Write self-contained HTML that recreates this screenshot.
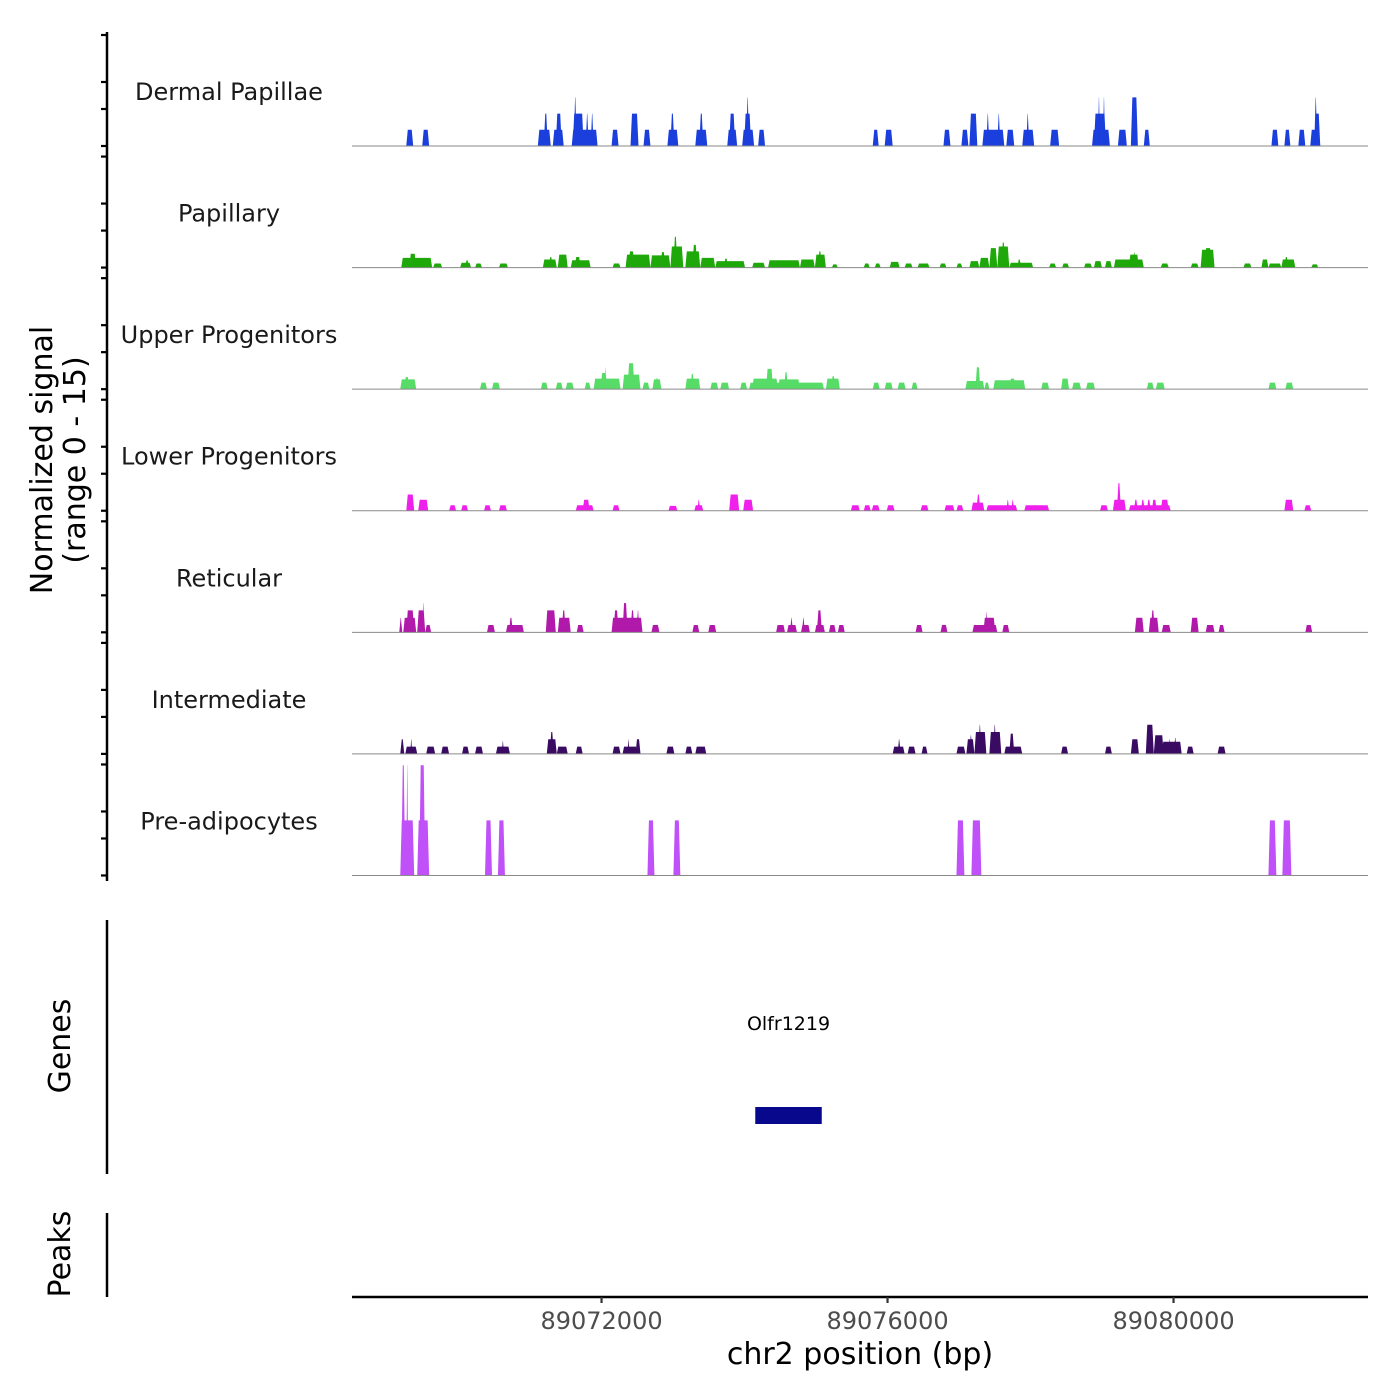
<!DOCTYPE html>
<html><head><meta charset="utf-8"><style>
html,body{margin:0;padding:0;background:#fff;}
svg{display:block;font-family:"DejaVu Sans","Liberation Sans",sans-serif;}
</style></head><body>
<svg id="chart" width="1400" height="1400" viewBox="0 0 1400 1400" xmlns="http://www.w3.org/2000/svg">
<g id="tracks"></g>
<g id="axes"></g>
</svg>
<script>
const REGION_OFFSET_BASE = 89068530;
const trackNames = ["Dermal Papillae","Papillary","Upper Progenitors","Lower Progenitors","Reticular","Intermediate","Pre-adipocytes"];
const trackColors = ["#1a3fdc","#1fa80a","#58dc68","#f020ec","#b019aa","#3a0b62","#c050f8"];
const xTicks = [89072000, 89076000, 89080000];
const xTickLabels = ["89072000","89076000","89080000"];
const geneName = "Olfr1219";
const geneStart = 89074150;
const geneEnd = 89075080;

// blocks: [start offset bp, end offset bp, signal]
const dermalPapillae = [[739,836,2],[962,1059,2],[2579,2760,2],[2662,2718,4],[2788,2941,2],[2830,2913,4],[3053,3415,2],[3067,3220,4],[3081,3123,6],[3248,3290,4],[3318,3360,4],[3610,3708,2],[3875,3987,4],[4057,4154,2],[4391,4544,2],[4433,4489,4],[4781,4949,2],[4837,4893,4],[5228,5367,2],[5255,5339,4],[5437,5604,2],[5464,5562,4],[5492,5534,6],[5660,5757,2],[7263,7346,2],[7430,7542,2],[8252,8350,2],[8503,8601,2],[8615,8726,4],[8796,9103,2],[8852,8893,4],[9005,9047,4],[9131,9242,2],[9354,9521,2],[9410,9451,4],[9744,9870,2],[10330,10580,2],[10357,10525,4],[10413,10441,6],[10483,10511,6],[10692,10817,2],[10873,10971,6],[11054,11138,2],[12839,12936,2],[13020,13104,2],[13215,13313,2],[13382,13522,2],[13438,13522,4],[13438,13480,6]];
const papillary = [[669,1101,1.2],[781,878,1.7],[1115,1241,0.5],[1492,1645,0.6],[1561,1617,0.9],[1701,1798,0.5],[2035,2161,0.5],[2649,2844,1.0],[2732,2788,1.3],[2858,2997,1.6],[3039,3318,0.9],[3095,3178,1.3],[3624,3736,0.5],[3806,4154,1.6],[3847,3931,2.0],[4154,4433,1.5],[4294,4363,1.9],[4433,4614,2.6],[4475,4531,3.8],[4642,4851,2.0],[4740,4809,2.8],[4851,5060,1.2],[5060,5478,0.8],[5180,5240,1.1],[5576,5757,0.6],[5799,6245,0.9],[6245,6454,1.0],[6454,6608,1.6],[6496,6552,2.0],[6691,6775,0.4],[7137,7221,0.5],[7291,7374,0.5],[7500,7639,0.7],[7709,7820,0.5],[7890,8057,0.5],[8197,8294,0.5],[8434,8517,0.5],[8615,8754,0.8],[8754,8894,1.2],[8894,9005,2.4],[9005,9173,2.6],[9061,9117,3.1],[9173,9507,0.6],[9284,9340,1.0],[9730,9828,0.5],[9911,10009,0.5],[10218,10330,0.5],[10357,10469,0.8],[10511,10608,0.8],[10636,11054,1.0],[10845,10985,1.6],[10901,10943,1.9],[11291,11403,0.5],[11710,11821,0.5],[11849,12044,2.2],[11905,12002,2.4],[12448,12560,0.5],[12699,12797,1.0],[12797,12978,0.5],[12978,13173,1.0],[13020,13076,1.3],[13396,13494,0.4]];
const upperProgenitors = [[655,878,1.2],[711,781,1.5],[1770,1868,0.8],[1938,2049,0.8],[2621,2718,0.8],[2830,2927,0.8],[2969,3081,0.8],[3234,3318,0.8],[3360,3736,1.3],[3457,3541,2.0],[3513,3541,2.7],[3764,4015,1.8],[3834,3931,3.2],[4043,4140,0.8],[4182,4307,1.2],[4220,4270,1.4],[4642,4851,1.3],[4712,4767,1.9],[4991,5102,0.8],[5130,5255,0.8],[5409,5506,0.8],[5534,6580,0.8],[5576,5938,1.3],[5771,5869,2.5],[5938,6245,1.2],[6022,6078,2.1],[6608,6803,1.3],[6680,6740,1.6],[7263,7360,0.8],[7430,7542,0.8],[7611,7723,0.8],[7806,7890,0.8],[8559,8824,1.0],[8699,8768,2.7],[8824,8894,0.8],[8949,9396,1.1],[9173,9260,1.3],[9619,9730,0.8],[9897,10009,1.3],[10051,10176,0.8],[10246,10371,0.8],[11096,11194,0.8],[11222,11347,0.8],[12797,12908,0.8],[13034,13145,0.8]];
const lowerProgenitors = [[739,850,2.0],[906,1046,1.35],[1338,1436,0.67],[1506,1603,0.67],[1826,1924,0.67],[2035,2147,0.67],[3109,3360,0.67],[3206,3304,1.35],[3624,3722,0.67],[4405,4531,0.6],[4767,4893,0.67],[4809,4851,1.35],[5255,5395,2.0],[5451,5590,1.35],[6956,7082,0.67],[7137,7235,0.67],[7249,7360,0.67],[7458,7569,0.67],[7932,8043,0.67],[8266,8406,0.67],[8434,8531,0.67],[8643,8824,1.0],[8713,8768,2.0],[8852,9284,0.67],[9131,9173,1.35],[9200,9242,1.35],[9382,9730,0.67],[10441,10553,0.67],[10622,10804,1.35],[10678,10734,3.4],[10845,11431,0.67],[10915,10971,1.35],[11013,11068,1.35],[11096,11152,1.35],[11166,11236,1.35],[11291,11403,1.35],[13020,13145,1.35],[13299,13396,0.67]];
const reticular = [[641,683,1.8],[697,878,1.8],[739,850,2.7],[892,1004,2.7],[962,990,3.6],[1004,1087,0.9],[1868,1979,0.9],[2133,2384,0.9],[2175,2230,1.8],[2690,2830,2.7],[2858,3039,1.8],[2913,2969,2.7],[3123,3220,0.9],[3610,4043,1.8],[3638,3708,2.7],[3764,3834,3.6],[3875,3931,2.7],[3959,4001,2.7],[4168,4280,0.9],[4740,4837,0.9],[4963,5074,0.9],[5911,6036,0.9],[6064,6203,0.9],[6106,6148,1.8],[6259,6385,0.9],[6273,6315,1.8],[6454,6594,0.9],[6482,6552,2.7],[6650,6747,0.9],[6775,6872,0.9],[7862,7960,0.9],[8211,8308,0.9],[8657,9005,0.9],[8810,8977,1.8],[8838,8866,2.5],[9075,9173,0.9],[10929,11054,1.8],[11124,11263,1.8],[11152,11208,2.7],[11305,11431,0.9],[11710,11821,1.8],[11919,12044,0.9],[12100,12184,0.9],[13313,13410,0.9]];
const intermediate = [[655,711,1.8],[725,892,0.9],[795,822,1.8],[1018,1143,0.9],[1227,1338,0.9],[1519,1617,0.9],[1701,1812,0.9],[1993,2189,0.9],[2075,2105,1.6],[2704,2844,1.8],[2746,2802,2.7],[2844,2997,0.9],[3109,3206,0.9],[3624,3736,0.9],[3764,3973,0.9],[3834,3861,1.8],[3945,4015,1.8],[4377,4489,0.9],[4642,4740,0.9],[4781,4935,0.9],[7542,7709,0.9],[7611,7653,1.8],[7751,7862,0.9],[7946,8029,0.9],[8434,8559,0.9],[8573,8685,1.8],[8615,8657,2.3],[8685,8852,2.7],[8741,8782,3.6],[8894,9061,2.7],[8949,8991,3.6],[9103,9354,0.9],[9173,9242,2.5],[9897,9995,0.9],[10511,10608,0.9],[10873,10985,1.8],[11082,11194,3.6],[11194,11333,2.3],[11305,11584,1.5],[11400,11430,1.8],[11473,11515,2.0],[11654,11752,0.9],[12086,12198,0.9]];
const preAdipocytes = [[655,850,6.8],[669,725,13.6],[739,767,13.6],[892,1059,6.8],[920,1004,13.6],[1840,1938,6.8],[2021,2119,6.8],[4112,4210,6.8],[4475,4572,6.8],[8434,8545,6.8],[8643,8782,6.8],[12797,12908,6.8],[12992,13118,6.8]];
const trackData = [dermalPapillae,papillary,upperProgenitors,lowerProgenitors,reticular,intermediate,preAdipocytes];

const NS = "http://www.w3.org/2000/svg";
const X0 = 352, X1 = 1368;
const domainStart = 89068510, pxPerBp = 286/4000;
function xScale(bp){ return X0 + (bp - domainStart) * pxPerBp; }
const firstBase = 146, trackH = 121.58, yMax = 15;
function yScale(v, i){ return firstBase + i*trackH - v * (trackH / yMax); }
function el(tag, attrs, parent){ const e = document.createElementNS(NS, tag); for (const k in attrs) e.setAttribute(k, attrs[k]); parent.appendChild(e); return e; }

const tracksG = document.getElementById('tracks');
const axesG = document.getElementById('axes');

trackData.forEach((blocks, i) => {
  const g = el('g', {}, tracksG);
  
  
  const base = yScale(0, i);
  const lbl = el('text', {x:229, y:base-46, 'text-anchor':'middle', 'font-size':24, fill:'#1a1a1a'}, g);
  lbl.textContent = trackNames[i];
  
  
  blocks.forEach(b => {
    const xa = xScale(REGION_OFFSET_BASE + b[0]), xb = xScale(REGION_OFFSET_BASE + b[1]);
    const yt = yScale(b[2], i);
    const s = Math.min(1.5, (xb - xa) / 2.2);
    const p = el('polygon', {points:`${xa},${base} ${xa+s},${yt} ${xb-s},${yt} ${xb},${base}`, fill:trackColors[i]}, g);
    
    
  });
  const bl = el('line', {x1:X0, x2:X1, y1:base, y2:base, stroke:'#8a8a8a', 'stroke-width':1}, g);
  
  
});

// left signal axis
const ax = el('line', {x1:107, x2:107, y1:32, y2:881, stroke:'#000', 'stroke-width':2.5}, axesG);


for (let i = 0; i < 7; i++) {
  const base = yScale(0, i);
  [111, 64, 37, 0].forEach(o => {
    const t = el('line', {x1:101, x2:107, y1:base-o, y2:base-o, stroke:'#000', 'stroke-width':2.2}, axesG);
    
    
  });
}
const yt1 = el('text', {x:0, y:0, transform:'translate(52,460) rotate(-90)', 'text-anchor':'middle', 'font-size':30, fill:'#000'}, axesG);
yt1.textContent = 'Normalized signal';


const yt2 = el('text', {x:0, y:0, transform:'translate(85,460) rotate(-90)', 'text-anchor':'middle', 'font-size':30, fill:'#000'}, axesG);
yt2.textContent = '(range 0 - 15)';



// genes panel
const ga = el('line', {x1:107, x2:107, y1:920, y2:1174, stroke:'#000', 'stroke-width':2.5}, axesG);


const gt = el('text', {x:0, y:0, transform:'translate(70,1046) rotate(-90)', 'text-anchor':'middle', 'font-size':30, fill:'#000'}, axesG);
gt.textContent = 'Genes';


const gx0 = xScale(geneStart), gx1 = xScale(geneEnd);
const gr = el('rect', {x:gx0, y:1107, width:gx1-gx0, height:17, fill:'#08088c'}, axesG);


const gl = el('text', {x:(gx0+gx1)/2, y:1030, 'text-anchor':'middle', 'font-size':19, fill:'#000'}, axesG);
gl.textContent = geneName;



// peaks panel
const pa = el('line', {x1:107, x2:107, y1:1213, y2:1297, stroke:'#000', 'stroke-width':2.5}, axesG);


const pt = el('text', {x:0, y:0, transform:'translate(70,1254) rotate(-90)', 'text-anchor':'middle', 'font-size':30, fill:'#000'}, axesG);
pt.textContent = 'Peaks';



// x axis
const xa = el('line', {x1:X0, x2:X1, y1:1297, y2:1297, stroke:'#000', 'stroke-width':2.5}, axesG);


xTicks.forEach((v, k) => {
  const x = xScale(v);
  const t = el('line', {x1:x, x2:x, y1:1297, y2:1303, stroke:'#333', 'stroke-width':2.2}, axesG);
  
  
  const l = el('text', {x:x, y:1329, 'text-anchor':'middle', 'font-size':24, fill:'#4d4d4d'}, axesG);
  l.textContent = xTickLabels[k];
  
  
});
const xt = el('text', {x:860, y:1364, 'text-anchor':'middle', 'font-size':30, fill:'#000'}, axesG);
xt.textContent = 'chr2 position (bp)';


</script>
</body></html>
